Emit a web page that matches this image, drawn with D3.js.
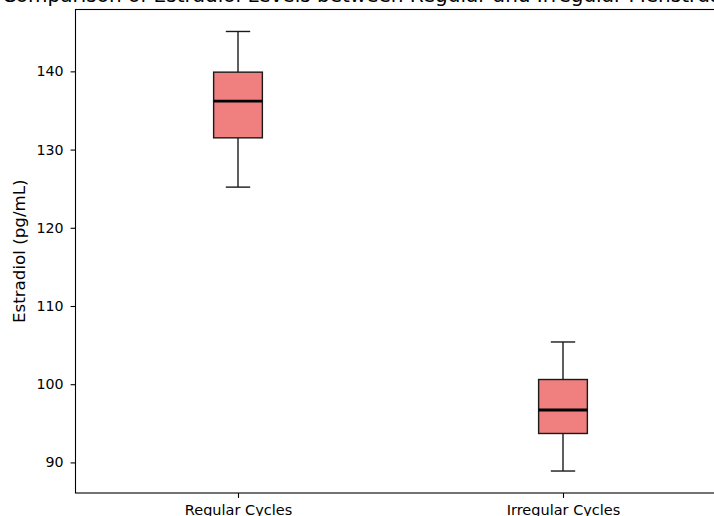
<!DOCTYPE html>
<html>
<head>
<meta charset="utf-8">
<script src="https://cdn.jsdelivr.net/npm/d3@7"></script>
<style>
  html, body { margin: 0; padding: 0; background: #fff; overflow: hidden; }
  svg { display: block; }
  text { font-family: "DejaVu Sans", sans-serif; fill: #000; }
</style>
</head>
<body>
<svg id="chart" width="714" height="516"></svg>
<script>
// ---- Data ----
const categories   = ["Regular Cycles", "Irregular Cycles"];
const whiskerLow   = [125.2, 88.9];
const q1Values     = [131.5, 93.7];
const medianValues = [136.2, 96.7];
const q3Values     = [139.9, 100.6];
const whiskerHigh  = [145.1, 105.4];
const yTickValues  = [90, 100, 110, 120, 130, 140];
const titleText    = "Comparison of Estradiol Levels between Regular and Irregular Menstrual Cycles";
const yLabelText   = "Estradiol (pg/mL)";

// ---- Layout ----
const svg = d3.select("#chart");
const plot = { left: 75.5, right: 725.5, top: 9.5, bottom: 493 };

const dataMin = d3.min(whiskerLow), dataMax = d3.max(whiskerHigh);
const pad = (dataMax - dataMin) * 0.05;

const x = d3.scaleLinear().domain([0.5, categories.length + 0.5]).range([plot.left, plot.right]);
const y = d3.scaleLinear().domain([dataMin - pad, dataMax + pad]).range([plot.bottom, plot.top]);

const boxW = 0.15, capW = 0.075;

const boxes = categories.map((c, i) => ({
  cat: c, pos: i + 1,
  lo: whiskerLow[i], q1: q1Values[i], med: medianValues[i], q3: q3Values[i], hi: whiskerHigh[i]
}));

const g = svg.append("g");
const edge = "#1a1a1a";

// whiskers
g.selectAll(".whisk-lo").data(boxes).join("line")
  .attr("x1", d => x(d.pos)).attr("x2", d => x(d.pos))
  .attr("y1", d => y(d.q1)).attr("y2", d => y(d.lo))
  .attr("stroke", edge).attr("stroke-width", 1.4);
g.selectAll(".whisk-hi").data(boxes).join("line")
  .attr("x1", d => x(d.pos)).attr("x2", d => x(d.pos))
  .attr("y1", d => y(d.q3)).attr("y2", d => y(d.hi))
  .attr("stroke", edge).attr("stroke-width", 1.4);
// caps
g.selectAll(".cap-lo").data(boxes).join("line")
  .attr("x1", d => x(d.pos - capW / 2)).attr("x2", d => x(d.pos + capW / 2))
  .attr("y1", d => y(d.lo)).attr("y2", d => y(d.lo))
  .attr("stroke", edge).attr("stroke-width", 1.4);
g.selectAll(".cap-hi").data(boxes).join("line")
  .attr("x1", d => x(d.pos - capW / 2)).attr("x2", d => x(d.pos + capW / 2))
  .attr("y1", d => y(d.hi)).attr("y2", d => y(d.hi))
  .attr("stroke", edge).attr("stroke-width", 1.4);
// boxes
g.selectAll(".box").data(boxes).join("rect")
  .attr("x", d => x(d.pos - boxW / 2))
  .attr("width", d => x(d.pos + boxW / 2) - x(d.pos - boxW / 2))
  .attr("y", d => y(d.q3))
  .attr("height", d => y(d.q1) - y(d.q3))
  .attr("fill", "#F08080").attr("stroke", edge).attr("stroke-width", 1.4);
// medians
g.selectAll(".med").data(boxes).join("line")
  .attr("x1", d => x(d.pos - boxW / 2)).attr("x2", d => x(d.pos + boxW / 2))
  .attr("y1", d => y(d.med)).attr("y2", d => y(d.med))
  .attr("stroke", "#000").attr("stroke-width", 2.8);

// axes
const yAxis = d3.axisLeft(y).tickValues(yTickValues).tickSize(4.9).tickPadding(7).tickFormat(d3.format("d"));
const yG = svg.append("g").attr("transform", `translate(${plot.left},0)`).call(yAxis);
yG.select(".domain").remove();
yG.selectAll("line").attr("stroke", "#000").attr("stroke-width", 1.1);
yG.selectAll("text").style("font-size", "14.2px").style("font-family", "DejaVu Sans, sans-serif").attr("fill", "#000");

const xAxis = d3.axisBottom(x).tickValues(boxes.map(d => d.pos)).tickSize(4.9).tickPadding(7)
  .tickFormat((d, i) => categories[i]);
const xG = svg.append("g").attr("transform", `translate(0,${plot.bottom})`).call(xAxis);
xG.select(".domain").remove();
xG.selectAll("line").attr("stroke", "#000").attr("stroke-width", 1.1);
xG.selectAll("text").style("font-size", "14.5px").style("font-family", "DejaVu Sans, sans-serif").attr("fill", "#000");

// spines
svg.append("rect")
  .attr("x", plot.left).attr("y", plot.top)
  .attr("width", plot.right - plot.left).attr("height", plot.bottom - plot.top)
  .attr("fill", "none").attr("stroke", "#000").attr("stroke-width", 1.1);

// title (clipped by the top edge, as in the reference)
svg.append("text")
  .attr("x", (plot.left + plot.right) / 2).attr("y", 1.5)
  .attr("text-anchor", "middle")
  .style("font-size", "20px")
  .text(titleText);

// y label
svg.append("text")
  .attr("transform", `translate(25,${(plot.top + plot.bottom) / 2}) rotate(-90)`)
  .attr("text-anchor", "middle")
  .style("font-size", "16.7px")
  .text(yLabelText);
</script>
</body>
</html>
